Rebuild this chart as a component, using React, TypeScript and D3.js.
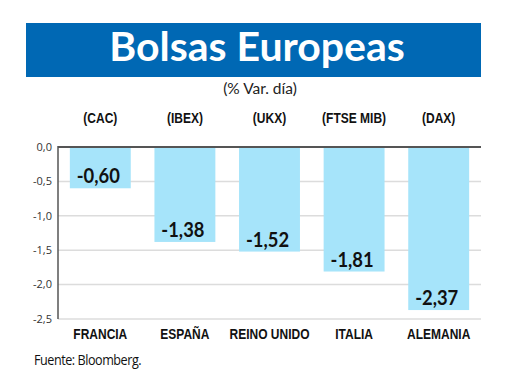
import React from 'react';
import * as d3 from 'd3';

const countries = ['FRANCIA', 'ESPAÑA', 'REINO UNIDO', 'ITALIA', 'ALEMANIA'];
const indices = ['(CAC)', '(IBEX)', '(UKX)', '(FTSE MIB)', '(DAX)'];
const changes = [-0.6, -1.38, -1.52, -1.81, -2.37];
const yTicks = [0, -0.5, -1, -1.5, -2, -2.5];

const locale = d3.formatLocale({
  decimal: ',',
  thousands: '.',
  grouping: [3],
  currency: ['', ''],
  minus: '-',
});
const fmtTick = locale.format('.1f');
const fmtValue = locale.format('.2f');

const width = 520;
const height = 390;
const margin = { top: 147, right: 39, bottom: 71, left: 58 };
const innerWidth = width - margin.left - margin.right;
const innerHeight = height - margin.top - margin.bottom;

// narrow bold labels, squeezed horizontally like the printed condensed face
const Condensed: React.FC<{ x: number; y: number; text: string; size?: number; squeeze?: number }> = ({
  x,
  y,
  text,
  size = 15,
  squeeze = 0.8,
}) => (
  <g transform={`translate(${x},${y}) scale(${squeeze},1)`}>
    <text
      textAnchor="middle"
      fontSize={size}
      fontWeight="bold"
      fill="#111"
      fontFamily="'Liberation Sans', Arial, sans-serif"
    >
      {text}
    </text>
  </g>
);

const App: React.FC = () => {
  const x = d3
    .scaleBand<string>()
    .domain(countries)
    .range([0, innerWidth])
    .paddingInner(0.28)
    .paddingOuter(0.14);

  const y = d3.scaleLinear().domain([0, -2.5]).range([0, innerHeight]);
  const cx = (c: string) => (x(c) as number) + x.bandwidth() / 2;

  return (
    <svg
      width={width}
      height={height}
      style={{ position: 'absolute', left: 0, top: 0, background: '#fff' }}
    >
      {/* Banner */}
      <rect x={26} y={23} width={455} height={54} fill="#0068b4" />
      <text
        x={257}
        y={61}
        textAnchor="middle"
        fill="#fff"
        fontFamily="Lato, 'Open Sans', sans-serif"
        fontWeight="bold"
        fontSize={41}
      >
        Bolsas Europeas
      </text>
      <text
        x={260}
        y={94}
        textAnchor="middle"
        fill="#222"
        fontFamily="Lato, 'Open Sans', sans-serif"
        fontSize={15.5}
      >
        (% Var. día)
      </text>

      <g transform={`translate(${margin.left},${margin.top})`}>
        {/* Gridlines */}
        {yTicks.map((t) => (
          <line
            key={t}
            x1={0}
            x2={innerWidth}
            y1={y(t)}
            y2={y(t)}
            stroke={t === 0 ? '#555' : '#dcdcdc'}
            strokeWidth={t === 0 ? 2 : 1.5}
          />
        ))}
        {/* Tick labels */}
        {yTicks.map((t) => (
          <text
            key={`l${t}`}
            x={-6}
            y={y(t)}
            dy="0.35em"
            textAnchor="end"
            fontSize={11}
            fill="#333"
            fontFamily="'Open Sans', sans-serif"
          >
            {fmtTick(t)}
          </text>
        ))}

        {/* Bars */}
        {countries.map((c, i) => (
          <rect
            key={c}
            x={x(c)}
            y={y(0) + 1}
            width={x.bandwidth()}
            height={y(changes[i]) - y(0) - 1}
            fill="#a6e4fa"
          />
        ))}

        {/* Value labels */}
        {countries.map((c, i) => (
          <g key={`v${c}`} transform={`translate(${cx(c) - 2},${y(changes[i]) - 5}) scale(0.92,1)`}>
            <text
              textAnchor="middle"
              fontSize={20}
              fontWeight="bold"
              fill="#111"
              fontFamily="Lato, 'Open Sans', sans-serif"
            >
              {fmtValue(changes[i])}
            </text>
          </g>
        ))}

        {/* Axis line */}
        <line x1={0} x2={0} y1={y(0) - 1} y2={y(-2.5)} stroke="#555" strokeWidth={1.5} />

        {/* Index codes */}
        {countries.map((c, i) => (
          <Condensed key={`c${c}`} x={cx(c)} y={-24} text={indices[i]} />
        ))}

        {/* Country labels */}
        {countries.map((c) => (
          <Condensed key={`n${c}`} x={cx(c)} y={innerHeight + 20} text={c} />
        ))}
      </g>

      <g transform="translate(34,365) scale(0.9,1)">
        <text
          fontSize={14}
          fill="#111"
          letterSpacing={-0.5}
          fontFamily="'Open Sans', sans-serif"
        >
          Fuente: Bloomberg.
        </text>
      </g>
    </svg>
  );
};

export default App;
